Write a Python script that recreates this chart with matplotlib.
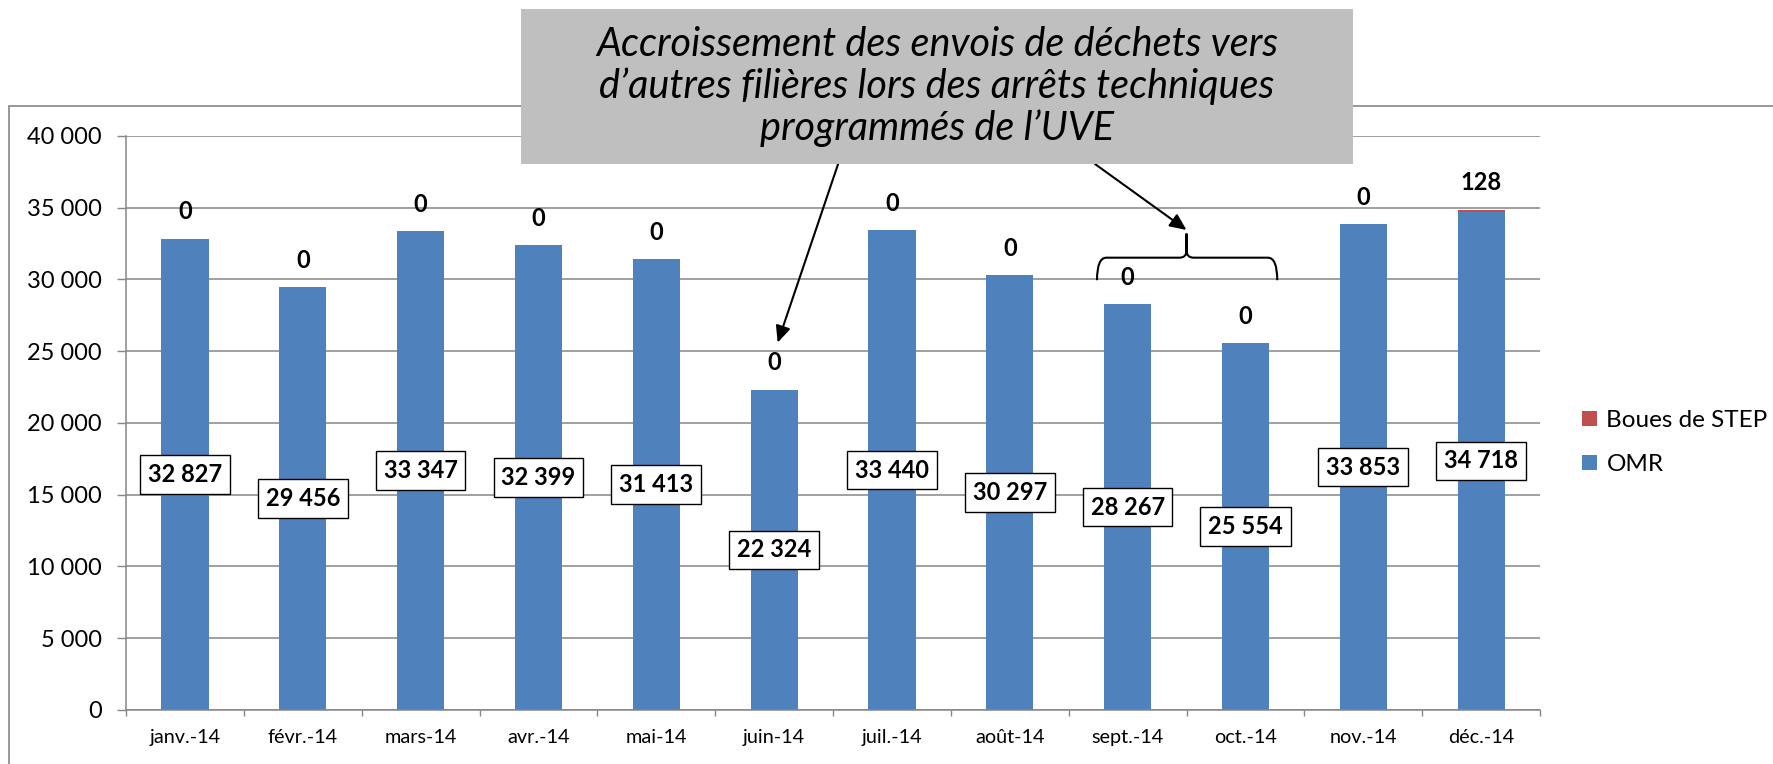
import numpy as np
import matplotlib.pyplot as plt
from matplotlib.patches import Rectangle, PathPatch
from matplotlib.path import Path

plt.rcParams['font.family'] = ['Lato', 'DejaVu Sans']

months = ["janv.-14", "févr.-14", "mars-14", "avr.-14", "mai-14", "juin-14",
          "juil.-14", "août-14", "sept.-14", "oct.-14", "nov.-14", "déc.-14"]
omr = [32827, 29456, 33347, 32399, 31413, 22324, 33440, 30297, 28267, 25554, 33853, 34718]
boues = [0, 0, 0, 0, 0, 0, 0, 0, 0, 0, 0, 128]
y_ticks = [0, 5000, 10000, 15000, 20000, 25000, 30000, 35000, 40000]

BLUE = "#4F81BD"
RED = "#C0504D"
GRID = "#868686"


def fmt(v):
    return f"{v:,}".replace(",", " ")


def main():
    fig = plt.figure(figsize=(17.73, 7.64), dpi=100)
    ax = fig.add_axes([0.0711, 0.0707, 0.7975, 0.7513])

    x = np.arange(len(months))
    ax.bar(x, omr, width=0.4, color=BLUE, label="OMR", zorder=2)
    ax.bar(x, boues, width=0.4, bottom=omr, color=RED, label="Boues de STEP", zorder=2)

    ax.set_xlim(-0.5, len(months) - 0.5)
    ax.set_ylim(0, 40000)
    ax.set_yticks(y_ticks)
    ax.set_yticklabels([fmt(t) for t in y_ticks], fontsize=17)
    ax.tick_params(axis="y", length=6.5, width=1, color=GRID, pad=11)
    ax.set_xticks(np.arange(-0.5, len(months), 1))
    ax.set_xticklabels([])
    ax.set_xticks(x, minor=True)
    ax.set_xticklabels(months, minor=True, fontsize=14.3)
    ax.tick_params(axis="x", which="major", length=4.5, width=1, color=GRID)
    ax.tick_params(axis="x", which="minor", length=0, pad=14)
    ax.yaxis.grid(True, color=GRID, linewidth=1.1, zorder=0)
    ax.set_axisbelow(True)
    for s in ["top", "right"]:
        ax.spines[s].set_visible(False)
    for s in ["left", "bottom"]:
        ax.spines[s].set_color(GRID)
        ax.spines[s].set_linewidth(1.1)

    # value labels
    for i, (v, b) in enumerate(zip(omr, boues)):
        ax.text(i, v / 2, fmt(v), ha="center", va="center", fontsize=17,
                fontweight="bold", zorder=4,
                bbox=dict(boxstyle="square,pad=0.33", fc="white", ec="black", lw=1))
        ax.annotate(fmt(b), (i, v + b), xytext=(0, 27), textcoords="offset pixels",
                    ha="center", va="center", fontsize=17, fontweight="bold", zorder=4)

    handles, labels = ax.get_legend_handles_labels()
    ax.legend(handles[::-1], labels[::-1], loc="upper left",
              bbox_to_anchor=(0.880, 0.492), bbox_transform=fig.transFigure,
              frameon=False, fontsize=17.5, handlelength=0.6, handleheight=0.6,
              handletextpad=0.4, labelspacing=0.95)

    # outer chart frame
    fig.patches.append(Rectangle((9 / 1773, -0.1), 1.2, 0.1 + 0.8613, fill=False,
                                 ec=GRID, lw=1.2, transform=fig.transFigure,
                                 figure=fig, zorder=0))

    # annotation box
    fig.patches.append(Rectangle((0.2939, 0.7853), 0.4692, 0.2029, fc="#BFBFBF",
                                 ec="none", transform=fig.transFigure, figure=fig,
                                 zorder=5))
    fig.text(0.5285, 0.8868,
             "Accroissement des envois de déchets vers\n"
             "d’autres filières lors des arrêts techniques\n"
             "programmés de l’UVE",
             ha="center", va="center", fontsize=28.5, style="italic",
             linespacing=1.13, zorder=6)

    arrow = dict(arrowstyle="-|>,head_length=1.0,head_width=0.45", color="black",
                 lw=1.5, shrinkA=0, shrinkB=0)
    ax.annotate("", xy=(5.03, 25600), xycoords="data",
                xytext=(0.4727, 0.7853), textcoords="figure fraction",
                arrowprops=arrow, zorder=6)
    ax.annotate("", xy=(8.5, 33450), xycoords="data",
                xytext=(0.6176, 0.7853), textcoords="figure fraction",
                arrowprops=arrow, zorder=6)

    # curly brace over sept./oct.
    xl, xr, xm = 7.74, 9.27, 8.5
    y0, y1, y2 = 29950, 31520, 33200
    verts = [(xl, y0), (xl, y1), (xl + 0.08, y1),
             (xm - 0.06, y1),
             (xm, y1), (xm, y1 + 500),
             (xm, y2),
             (xm, y2), (xm, y1 + 500),
             (xm, y1), (xm + 0.06, y1),
             (xr - 0.08, y1),
             (xr, y1), (xr, y0)]
    codes = [Path.MOVETO, Path.CURVE3, Path.CURVE3,
             Path.LINETO,
             Path.CURVE3, Path.CURVE3,
             Path.LINETO,
             Path.MOVETO, Path.LINETO,
             Path.CURVE3, Path.CURVE3,
             Path.LINETO,
             Path.CURVE3, Path.CURVE3]
    ax.add_patch(PathPatch(Path(verts, codes), fill=False, lw=1.5, ec="black",
                           zorder=5, clip_on=False))

    fig.savefig("out.png", dpi=100)


if __name__ == "__main__":
    main()
